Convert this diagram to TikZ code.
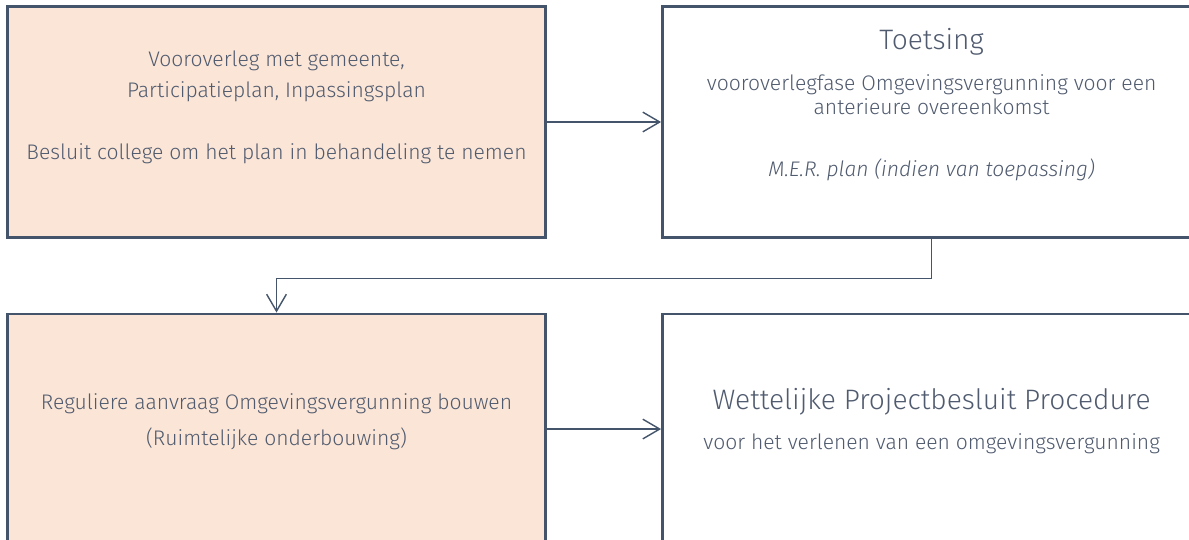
\documentclass[tikz,border=0pt]{standalone}
\usepackage{fontspec}
\setmainfont{Fira Sans}[UprightFont={* Light}, ItalicFont={* Light Italic}]
\usepackage{tikz}
\usetikzlibrary{arrows.meta}
\usetikzlibrary{calc,positioning}

\definecolor{lijn}{HTML}{44546A}
\definecolor{perzik}{HTML}{FBE5D6}
\definecolor{tekstkleur}{HTML}{505B6F}

\begin{document}
\begin{tikzpicture}[x=0.025cm, y=-0.025cm,
    blok/.style = {draw=lijn, line width=2.1pt, minimum width=13.45cm, minimum height=5.75cm, inner sep=0pt},
    stap/.style = {blok, fill=perzik},
    tekst/.style = {align=center, inner sep=0pt, text=tekstkleur, font=\fontsize{15}{22}\selectfont},
    kop/.style = {tekst, font=\fontsize{20}{22}\selectfont},
    pijl/.style = {draw=lijn, line width=1pt, -{Straight Barb[length=12pt, width=14pt]}}]
\clip (0,0) rectangle (1189,539);
\fill[white] (0,0) rectangle (1189,539);

% vakken
\node [stap] (tl) at (276.5,122) {};
\node [blok, right=2.85cm of tl] (tr) {};
\node [stap, below=1.85cm of tl] (bl) {};
\node [blok, right=2.85cm of bl] (br) {};

% teksten
\node [tekst] (tlt) at (276.5,107) {Vooroverleg met gemeente,\\ Participatieplan, Inpassingsplan\\[22pt] Besluit college om het plan in behandeling te nemen};
\node [kop] (trkop) at (tr.center |- 0,42) {Toetsing};
\node [tekst, font=\fontsize{15}{17}\selectfont] (trt) at (tr.center |- 0,95) {vooroverlegfase Omgevingsvergunning voor een\\ anterieure overeenkomst};
\node [tekst, font=\fontsize{15}{17}\selectfont\itshape] (trmer) at (tr.center |- 0,170) {M.E.R. plan (indien van toepassing)};
\node [tekst, font=\fontsize{15}{26}\selectfont] (blt) at (276.5,421.5) {Reguliere aanvraag Omgevingsvergunning bouwen\\ (Ruimtelijke onderbouwing)};
\node [kop] (brkop) at (br.center |- 0,402) {Wettelijke Projectbesluit Procedure};
\node [tekst] (brt) at (br.center |- 0,444) {voor het verlenen van een omgevingsvergunning};

% pijlen
\draw [pijl] (tl) -- (tr);
\draw [pijl] (tr.south) -- ++(0,40) -| (bl.north);
\draw [pijl] (bl) -- (br);
\end{tikzpicture}
\end{document}
